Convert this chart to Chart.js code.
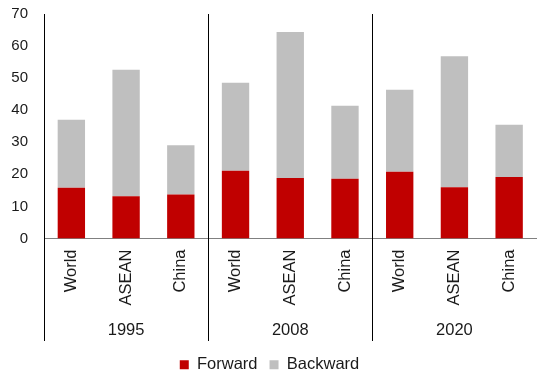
<!DOCTYPE html>
<html>
<head>
<meta charset="utf-8">
<script src="https://cdn.jsdelivr.net/npm/chart.js@4.4.1/dist/chart.umd.min.js"></script>
<style>
  html, body { margin: 0; padding: 0; background: #fff; overflow: hidden; }
  #wrap { width: 537px; height: 374px; overflow: hidden; position: relative; }
  canvas { display: block; }
</style>
</head>
<body>
<div id="wrap"><canvas id="c" width="540" height="383"></canvas></div>
<script>
// Groups and the regions shown inside each group
const years = ['1995', '2008', '2020'];
const regions = ['World', 'ASEAN', 'China'];
const categories = years.flatMap(() => regions);

// Participation shares (%), one value per category
const forward  = [15.8, 13.2, 13.7, 21.1, 18.9, 18.6, 20.8, 16.0, 19.2];
const backward = [21.2, 39.4, 15.4, 27.5, 45.5, 22.8, 25.6, 40.8, 16.3];

// Value axis
const yMin = 0, yMax = 70, yStep = 10;

const FONT = '"Liberation Sans", Arial, sans-serif';
const TEXT = '#1a1a1a';

// Draws the group dividers, the extended value-axis line and the year labels
const groupAxis = {
  id: 'groupAxis',
  afterDraw(chart) {
    const { ctx, chartArea: area } = chart;
    const x = chart.scales.x;
    const lowY = 341;
    ctx.save();
    ctx.strokeStyle = '#000';
    ctx.lineWidth = 1;
    const lx = Math.round(area.left) + 0.5;
    ctx.beginPath();
    ctx.moveTo(lx, area.bottom);
    ctx.lineTo(lx, lowY);
    ctx.stroke();
    for (let g = 1; g < years.length; g++) {
      const i = g * regions.length;
      const px = Math.round((x.getPixelForTick(i - 1) + x.getPixelForTick(i)) / 2) + 0.5;
      ctx.beginPath();
      ctx.moveTo(px, area.top);
      ctx.lineTo(px, lowY);
      ctx.stroke();
    }
    ctx.fillStyle = TEXT;
    ctx.font = '16.5px ' + FONT;
    ctx.textAlign = 'center';
    ctx.textBaseline = 'middle';
    years.forEach((yr, g) => {
      const px = x.getPixelForTick(g * regions.length + 1);
      ctx.fillText(yr, px, 330);
    });
    ctx.restore();
  }
};

new Chart(document.getElementById('c'), {
  type: 'bar',
  data: {
    labels: categories,
    datasets: [
      { label: 'Forward', data: forward, backgroundColor: '#C00000', borderWidth: 0 },
      { label: 'Backward', data: backward, backgroundColor: '#BFBFBF', borderWidth: 0 }
    ]
  },
  options: {
    responsive: false,
    animation: false,
    devicePixelRatio: 1,
    layout: { padding: { top: 14, left: 0, right: 1, bottom: 0 } },
    datasets: { bar: { barPercentage: 0.5, categoryPercentage: 1 } },
    scales: {
      x: {
        stacked: true,
        grid: { display: false, drawTicks: false },
        border: { display: true, color: '#808080', width: 1 },
        ticks: {
          minRotation: 90, maxRotation: 90, padding: 11,
          color: TEXT, font: { family: FONT, size: 16.5 }
        },
        afterFit(scale) { scale.height = 106; }
      },
      y: {
        stacked: true,
        min: yMin, max: yMax,
        grid: { display: false, drawTicks: false },
        border: { display: true, color: '#000', width: 1 },
        ticks: {
          stepSize: yStep, padding: 16,
          color: TEXT, font: { family: FONT, size: 15 }
        },
        afterFit(scale) {
          scale.width = 44;
          scale.paddingTop = 0;
          scale.paddingBottom = 0;
        }
      }
    },
    plugins: {
      tooltip: { enabled: false },
      legend: {
        position: 'bottom',
        labels: {
          boxWidth: 9, boxHeight: 9, padding: 12,
          color: TEXT, font: { family: FONT, size: 16.5 }
        }
      }
    }
  },
  plugins: [groupAxis]
});
</script>
</body>
</html>
